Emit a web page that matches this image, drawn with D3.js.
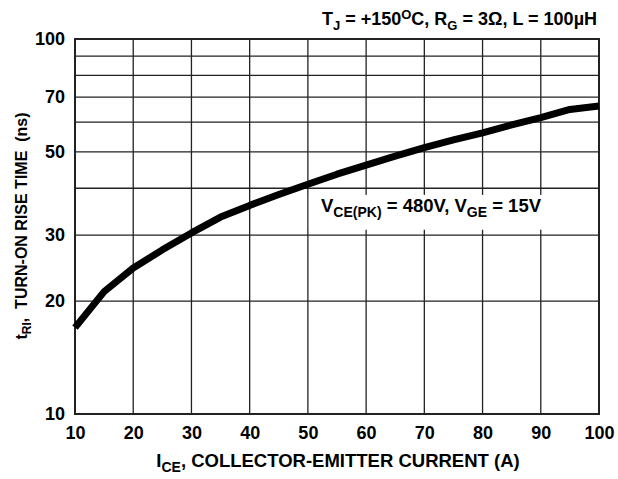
<!DOCTYPE html>
<html>
<head>
<meta charset="utf-8">
<script src="https://cdn.jsdelivr.net/npm/d3@7"></script>
<style>
  html, body { margin: 0; padding: 0; background: #fff; }
  svg { display: block; font-family: "Liberation Sans", Arial, sans-serif; font-weight: bold; }
</style>
</head>
<body>
<div id="chart"></div>
<script>
// collector-emitter current (A) and turn-on rise time (ns)
const currentA = [10, 15, 20, 25, 30, 35, 40, 45, 50, 55, 60, 65, 70, 75, 80, 85, 90, 95, 100];
const riseNs = [17.0, 21.2, 24.5, 27.4, 30.4, 33.5, 36.0, 38.5, 41.0, 43.6, 46.1, 48.7, 51.3, 53.8, 56.2, 59.0, 61.7, 64.9, 66.3];

const xTicks = [10, 20, 30, 40, 50, 60, 70, 80, 90, 100];
const yGrid = [10, 20, 30, 40, 50, 60, 70, 80, 90, 100];
const yTickLabels = [10, 20, 30, 50, 70, 100];

const width = 618, height = 479;
const margin = { top: 39, right: 19, bottom: 65, left: 75 };

const svg = d3.select("#chart").append("svg")
  .attr("width", width)
  .attr("height", height);

const x = d3.scaleLinear().domain([10, 100]).range([margin.left, width - margin.right]);
const y = d3.scaleLog().domain([10, 100]).range([height - margin.bottom, margin.top]);

const grid = svg.append("g").attr("stroke", "#222").attr("stroke-width", 1.3);

grid.selectAll("line.v").data(xTicks).join("line")
  .attr("class", "v")
  .attr("x1", d => x(d)).attr("x2", d => x(d))
  .attr("y1", y(100)).attr("y2", y(10));

grid.selectAll("line.h").data(yGrid).join("line")
  .attr("class", "h")
  .attr("x1", x(10)).attr("x2", x(100))
  .attr("y1", d => y(d)).attr("y2", d => y(d));

// frame
svg.append("rect")
  .attr("x", x(10)).attr("y", y(100))
  .attr("width", x(100) - x(10)).attr("height", y(10) - y(100))
  .attr("fill", "none").attr("stroke", "#222").attr("stroke-width", 2);

// white box behind the test condition label
svg.append("rect")
  .attr("x", x(50) + 1).attr("y", y(38.4))
  .attr("width", x(94) - x(50)).attr("height", y(31) - y(38.4))
  .attr("fill", "#fff");

// curve
const line = d3.line().x((d, i) => x(currentA[i])).y(d => y(d));
svg.append("path")
  .attr("d", line(riseNs))
  .attr("fill", "none")
  .attr("stroke", "#000")
  .attr("stroke-width", 7)
  .attr("stroke-linejoin", "round");

// axes labels
const xAxis = d3.axisBottom(x).tickValues(xTicks).tickSize(0).tickPadding(12);
svg.append("g")
  .attr("transform", `translate(0,${y(10)})`)
  .call(xAxis)
  .call(g => g.select(".domain").remove())
  .selectAll("text")
  .attr("font-family", "Liberation Sans, Arial, sans-serif")
  .attr("font-weight", "bold")
  .attr("font-size", 18)
  .attr("fill", "#000");

const yAxis = d3.axisLeft(y).tickValues(yTickLabels).tickFormat(d3.format("d")).tickSize(0).tickPadding(10);
svg.append("g")
  .attr("transform", `translate(${x(10)},0)`)
  .call(yAxis)
  .call(g => g.select(".domain").remove())
  .selectAll("text")
  .attr("font-family", "Liberation Sans, Arial, sans-serif")
  .attr("font-weight", "bold")
  .attr("font-size", 18)
  .attr("fill", "#000");

// x title
const xt = svg.append("text")
  .attr("x", 338).attr("y", 467)
  .attr("text-anchor", "middle").attr("font-size", 18.5);
xt.append("tspan").text("I");
xt.append("tspan").attr("dy", 5).attr("font-size", 14).text("CE");
xt.append("tspan").attr("dy", -5).text(", COLLECTOR-EMITTER CURRENT (A)");

// y title
const yt = svg.append("text")
  .attr("transform", `translate(27,226) rotate(-90)`)
  .attr("text-anchor", "middle").attr("font-size", 16);
yt.append("tspan").text("t");
yt.append("tspan").attr("dy", 4).attr("font-size", 12).text("RI");
yt.append("tspan").attr("dy", -4).attr("xml:space", "preserve").text(",  TURN-ON RISE TIME  (ns)");

// top conditions
const tt = svg.append("text")
  .attr("x", 597).attr("y", 25)
  .attr("text-anchor", "end").attr("font-size", 18);
tt.append("tspan").text("T");
tt.append("tspan").attr("dy", 5).attr("font-size", 13).text("J");
tt.append("tspan").attr("dy", -5).text(" = +150");
tt.append("tspan").attr("dy", -6).attr("font-size", 13).text("O");
tt.append("tspan").attr("dy", 6).text("C, R");
tt.append("tspan").attr("dy", 5).attr("font-size", 13).text("G");
tt.append("tspan").attr("dy", -5).text(" = 3Ω, L = 100µH");

// curve condition label
const vt = svg.append("text")
  .attr("x", 321).attr("y", 212)
  .attr("font-size", 18.5);
vt.append("tspan").text("V");
vt.append("tspan").attr("dy", 5).attr("font-size", 14).text("CE(PK)");
vt.append("tspan").attr("dy", -5).text(" = 480V, V");
vt.append("tspan").attr("dy", 5).attr("font-size", 14).text("GE");
vt.append("tspan").attr("dy", -5).text(" = 15V");
</script>
</body>
</html>
